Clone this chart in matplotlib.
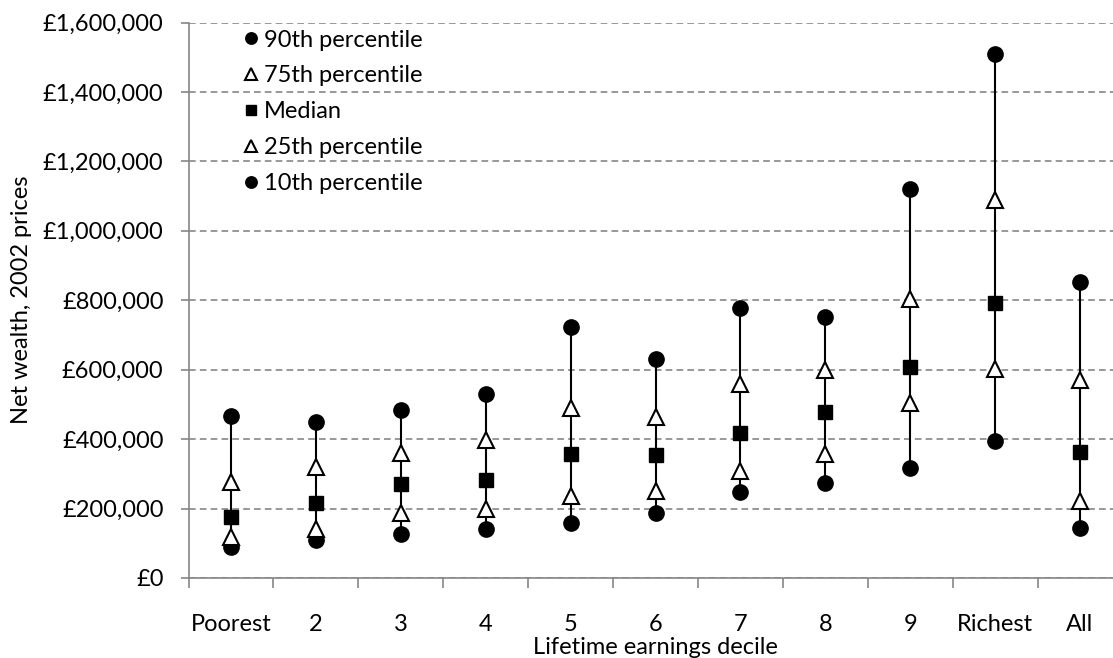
import numpy as np
import matplotlib.pyplot as plt
import matplotlib as mpl
from matplotlib.ticker import FuncFormatter, MultipleLocator

# ========================= Style ========================= #
mpl.rcParams.update({
    'font.family' : ['Lato', 'DejaVu Sans'],
    'font.size'   : 17,
})

# ========================= Données ========================= #
deciles = ['Poorest', '2', '3', '4', '5', '6', '7', '8', '9', 'Richest', 'All']

p90 = [466e3, 450e3, 485e3, 531e3, 723e3, 631e3, 778e3, 752e3, 1119e3, 1510e3, 853e3]
p75 = [277e3, 320e3, 361e3, 397e3, 490e3, 464e3, 560e3, 600e3, 805e3, 1088e3, 570e3]
med = [176e3, 215e3, 270e3, 282e3, 356e3, 354e3, 418e3, 479e3, 608e3, 792e3, 364e3]
p25 = [119e3, 141e3, 188e3, 200e3, 237e3, 251e3, 309e3, 357e3, 503e3, 603e3, 222e3]
p10 = [90e3, 109e3, 127e3, 141e3, 159e3, 186e3, 248e3, 274e3, 318e3, 394e3, 145e3]

# ========================= Figure ========================= #
fig = plt.figure(figsize=(11.13, 6.58), dpi=100)
ax = fig.add_axes([188.5/1113, 1 - 578/658, (1122.5 - 188.5)/1113, (578 - 22.5)/658])

x = np.arange(len(deciles))
grey = '#868686'

# Lignes verticales 10e -> 90e
ax.vlines(x, p10, p90, color='black', lw=1.5, zorder=2)

l90, = ax.plot(x, p90, 'o', color='black', ms=11, ls='none', zorder=3, label='90th percentile')
l10, = ax.plot(x, p10, 'o', color='black', ms=11, ls='none', zorder=3, label='10th percentile')
l75, = ax.plot(x, p75, '^', mfc='white', mec='black', mew=1.5, ms=11, ls='none', zorder=4, label='75th percentile')
l25, = ax.plot(x, p25, '^', mfc='white', mec='black', mew=1.5, ms=11, ls='none', zorder=4, label='25th percentile')
lmd, = ax.plot(x, med, 's', color='black', ms=10.5, ls='none', zorder=4, label='Median')

# Axes
ax.set_xlim(-0.5, len(deciles) - 0.5)
ax.set_ylim(0, 1.6e6)
ax.yaxis.set_major_locator(MultipleLocator(200e3))
ax.yaxis.set_major_formatter(FuncFormatter(lambda v, p: f'£{v:,.0f}'))
ax.set_xticks(x)
ax.set_xticklabels(deciles)
ax.set_xticks(np.arange(-0.5, len(deciles)), minor=True)
ax.tick_params(axis='x', which='major', length=0, pad=26)
ax.tick_params(axis='x', which='minor', length=7, color=grey, width=1.2)
ax.tick_params(axis='y', length=6, color=grey, width=1.2, pad=12)

ax.grid(axis='y', color=grey, ls='--', lw=1.2, dashes=(4, 2.5))
ax.set_axisbelow(True)
for s in ['top', 'right']:
    ax.spines[s].set_visible(False)
for s in ['left', 'bottom']:
    ax.spines[s].set_color(grey)
    ax.spines[s].set_linewidth(1.2)

ax.set_xlabel('Lifetime earnings decile', labelpad=1)
ax.set_ylabel('Net wealth, 2002 prices', labelpad=8)

# Légende
leg = ax.legend(handles=[l90, l75, lmd, l25, l10], loc='upper left',
                bbox_to_anchor=(0.043, 1.017), frameon=False,
                markerscale=0.75, handlelength=0.5, handletextpad=0.3,
                labelspacing=0.63, fontsize=17, borderaxespad=0.3)

fig.savefig('out.png', dpi=100)
